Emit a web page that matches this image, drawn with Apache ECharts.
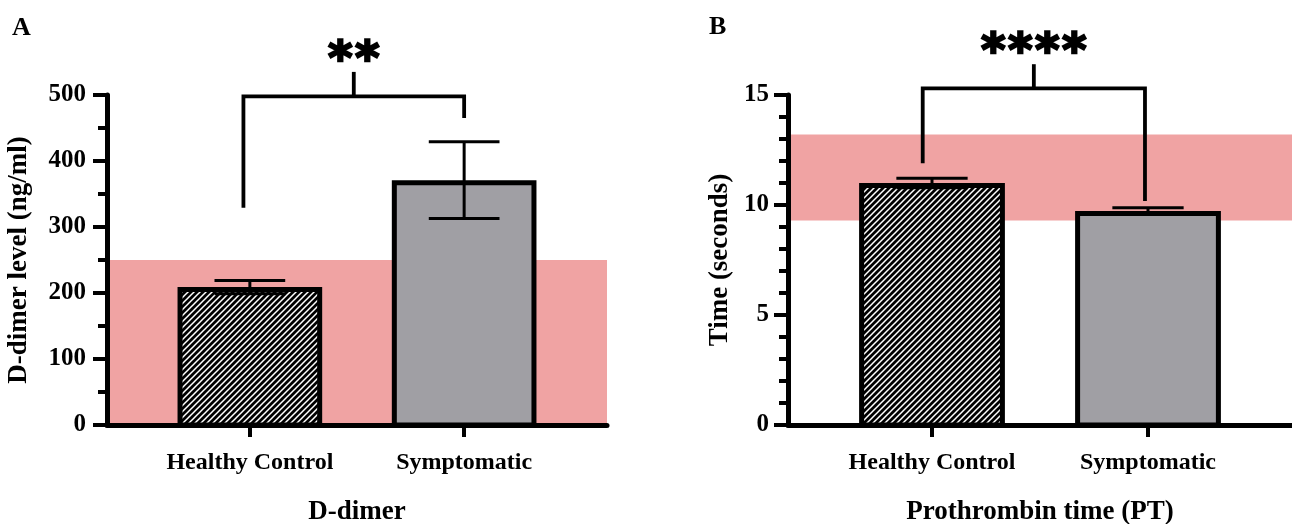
<!DOCTYPE html>
<html><head><meta charset="utf-8">
<script src="https://cdn.jsdelivr.net/npm/echarts@6/dist/echarts.min.js"></script>
<style>html,body{margin:0;padding:0;background:#fff}#c{width:1292px;height:524px}</style>
</head><body><div id="c"></div>
<script>
// ---------- data ----------
const categories = ['Healthy Control', 'Symptomatic'];
const catPos = [1, 2];
const ddimerMean = [209, 371];
const ddimerSem = [10, 58];
const ptMean = [11.0, 9.73];
const ptSem = [0.22, 0.15];
const ddimerRef = [0, 250];
const ptRef = [9.3, 13.2];
const ddimerYTicks = [0, 100, 200, 300, 400, 500];
const ptYTicks = [0, 5, 10, 15];
const ddimerBracket = { x: [0.97, 2.0], leg: [329, 465], top: 498, apex: 535, stars: '**' };
const ptBracket = { x: [0.957, 1.986], leg: [11.9, 10.18], top: 15.3, apex: 16.4, stars: '****' };
const xRange = [1 / 3, 8 / 3];

// ---------- style ----------
const FONT = 'Liberation Serif';
const PINK = '#f0a3a3';
const GRAY = '#a09fa4';
const BAR_W = 0.675;
const CAP_W = 0.33;

function hatchCanvas() {
  const n = 6, c = document.createElement('canvas');
  c.width = n; c.height = n;
  const g = c.getContext('2d');
  g.fillStyle = '#000'; g.fillRect(0, 0, n, n);
  g.strokeStyle = '#fff'; g.lineWidth = 1.5;
  g.beginPath();
  g.moveTo(-1, n + 1); g.lineTo(n + 1, -1);
  g.moveTo(-n / 2 - 1, n / 2 + 1); g.lineTo(n / 2 + 1, -n / 2 - 1);
  g.moveTo(n / 2 - 1, n * 1.5 + 1); g.lineTo(n * 1.5 + 1, n / 2 - 1);
  g.stroke();
  return c;
}
const HATCH = { image: hatchCanvas(), repeat: 'repeat' };
const fills = [HATCH, GRAY];

function bandItem(params, api) {
  const cs = params.coordSys;
  const lo = api.coord([xRange[0], api.value(0)]);
  const hi = api.coord([xRange[0], api.value(1)]);
  return { type: 'rect', shape: { x: cs.x + 2, y: hi[1], width: cs.width - 2, height: lo[1] - hi[1] }, style: { fill: PINK } };
}
function barItem(params, api) {
  const i = params.dataIndex;
  const x = api.value(0), v = api.value(1);
  const top = api.coord([x, v]), base = api.coord([x, 0]);
  const w = api.size([BAR_W, 0])[0];
  const bw = 5;
  return { type: 'rect', shape: { x: top[0] - w / 2 + bw / 2, y: top[1] + bw / 2, width: w - bw, height: base[1] - top[1] - bw / 2 },
    style: { fill: fills[i], stroke: '#000', lineWidth: bw } };
}
function errItem(params, api) {
  const x = api.value(0), m = api.value(1), e = api.value(2);
  const hi = api.coord([x, m + e]), lo = api.coord([x, m - e]);
  const cw = api.size([CAP_W, 0])[0] / 2;
  const st = { stroke: '#000', lineWidth: 3 };
  return { type: 'group', children: [
    { type: 'line', shape: { x1: hi[0], y1: hi[1], x2: lo[0], y2: lo[1] }, style: st },
    { type: 'line', shape: { x1: hi[0] - cw, y1: hi[1], x2: hi[0] + cw, y2: hi[1] }, style: st },
    { type: 'line', shape: { x1: lo[0] - cw, y1: lo[1], x2: lo[0] + cw, y2: lo[1] }, style: st }
  ] };
}
function bracketItem(b) {
  return function (params, api) {
    const L = api.coord([b.x[0], b.leg[0]]), Lt = api.coord([b.x[0], b.top]);
    const R = api.coord([b.x[1], b.leg[1]]), Rt = api.coord([b.x[1], b.top]);
    const mx = (b.x[0] + b.x[1]) / 2;
    const Mt = api.coord([mx, b.top]), Ma = api.coord([mx, b.apex]);
    const st = { stroke: '#000', lineWidth: 3.8, fill: null, lineJoin: 'miter' };
    const children = [
      { type: 'polyline', shape: { points: [L, Lt, Rt, R] }, style: st },
      { type: 'line', shape: { x1: Ma[0], y1: Ma[1], x2: Mt[0], y2: Mt[1] }, style: st }
    ];
    const n = b.stars.length, pitch = 27;
    for (let k = 0; k < n; k++) {
      children.push({ type: 'text', x: Ma[0] + (k - (n - 1) / 2) * pitch, y: Ma[1] + 13,
        style: { text: b.stars[k], font: 'bold 46px "DejaVu Sans"', fill: '#000', stroke: '#000', lineWidth: 2.5,
          align: 'center', verticalAlign: 'bottom' } });
    }
    return { type: 'group', children };
  };
}

const labelStyle = { fontFamily: FONT, fontWeight: 'bold', color: '#000' };
function yAxis(gridIndex, ticks, name, gap, margin, minorSplit) {
  return {
    type: 'value', gridIndex, min: ticks[0], max: ticks[ticks.length - 1], interval: ticks[1] - ticks[0],
    name, nameLocation: 'middle', nameGap: gap, nameTextStyle: Object.assign({ fontSize: 27 }, labelStyle),
    axisLine: { show: true, lineStyle: { color: '#000', width: 5 } },
    axisTick: { show: true, length: 14, lineStyle: { color: '#000', width: 4 } },
    minorTick: { show: true, splitNumber: minorSplit, length: 9, lineStyle: { color: '#000', width: 4 } },
    splitLine: { show: false },
    axisLabel: Object.assign({ margin, fontSize: 25 }, labelStyle),
    z: 5
  };
}
function xAxis(gridIndex, name, gap) {
  return {
    type: 'value', gridIndex, min: xRange[0], max: xRange[1],
    name, nameLocation: 'middle', nameGap: gap, nameTextStyle: Object.assign({ fontSize: 27 }, labelStyle),
    axisLine: { show: true, onZero: false, lineStyle: { color: '#000', width: 5 } },
    axisTick: { show: true, customValues: catPos, length: 12, lineStyle: { color: '#000', width: 4 } },
    axisLabel: Object.assign({ show: true, customValues: catPos, margin: 26, fontSize: 24,
      formatter: v => categories[catPos.indexOf(Math.round(v))] || '' }, labelStyle),
    splitLine: { show: false },
    z: 5
  };
}
const mk = (means, sems) => categories.map((c, i) => [catPos[i], means[i], sems[i]]);

const option = {
  animation: false,
  backgroundColor: '#fff',
  grid: [
    { left: 107, right: 685, top: 95, bottom: 99, outerBoundsMode: 'none', containLabel: false },
    { left: 788, right: 0, top: 95, bottom: 99, outerBoundsMode: 'none', containLabel: false }
  ],
  xAxis: [xAxis(0, 'D-dimer', 74), xAxis(1, 'Prothrombin time (PT)', 74)],
  yAxis: [
    yAxis(0, ddimerYTicks, 'D-dimer level (ng/ml)', 74, 21, 2),
    yAxis(1, ptYTicks, 'Time (seconds)', 54, 19, 5)
  ],
  graphic: [
    { type: 'text', left: 12, top: 15, style: { text: 'A', font: 'bold 26px "Liberation Serif"', fill: '#000' } },
    { type: 'text', left: 709, top: 14, style: { text: 'B', font: 'bold 26px "Liberation Serif"', fill: '#000' } }
  ],
  series: [
    { type: 'custom', xAxisIndex: 0, yAxisIndex: 0, z: 1, renderItem: bandItem, data: [ddimerRef] },
    { type: 'custom', xAxisIndex: 1, yAxisIndex: 1, z: 1, renderItem: bandItem, data: [ptRef] },
    { type: 'custom', xAxisIndex: 0, yAxisIndex: 0, z: 2, renderItem: barItem, data: mk(ddimerMean, ddimerSem) },
    { type: 'custom', xAxisIndex: 1, yAxisIndex: 1, z: 2, renderItem: barItem, data: mk(ptMean, ptSem) },
    { type: 'custom', xAxisIndex: 0, yAxisIndex: 0, z: 3, renderItem: errItem, data: mk(ddimerMean, ddimerSem) },
    { type: 'custom', xAxisIndex: 1, yAxisIndex: 1, z: 3, renderItem: errItem, data: mk(ptMean, ptSem) },
    { type: 'custom', xAxisIndex: 0, yAxisIndex: 0, z: 3, clip: false, renderItem: bracketItem(ddimerBracket), data: [[1.5, ddimerBracket.top]] },
    { type: 'custom', xAxisIndex: 1, yAxisIndex: 1, z: 3, clip: false, renderItem: bracketItem(ptBracket), data: [[1.5, ptBracket.top]] }
  ]
};
const chart = echarts.init(document.getElementById('c'), null, { renderer: 'canvas' });
chart.setOption(option);
</script>
</body></html>
